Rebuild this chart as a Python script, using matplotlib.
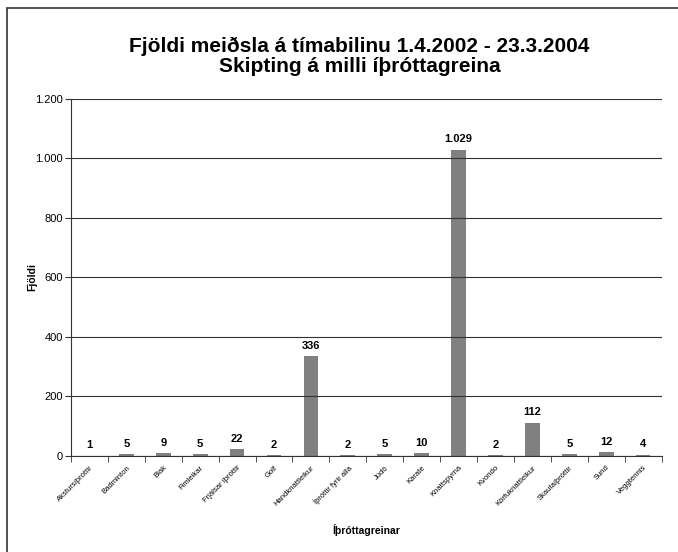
import numpy as np
import matplotlib.pyplot as plt
from matplotlib.patches import Rectangle
from matplotlib.ticker import FuncFormatter

plt.rcParams['font.family'] = ['Liberation Sans', 'DejaVu Sans']

greinar = ['Akstursíþróttir', 'Badminton', 'Blak', 'Fimleikar', 'Frjálsar íþróttir',
           'Golf', 'Handknattleikur', 'Íþróttir fyrir alla', 'Júdó', 'Karate',
           'Knattspyrna', 'Kvondo', 'Körfuknattleikur', 'Skautaíþróttir', 'Sund',
           'Veggtennis']
fjoldi = [1, 5, 9, 5, 22, 2, 336, 2, 5, 10, 1029, 2, 112, 5, 12, 4]


def thus(v):
    return f'{int(v):,}'.replace(',', '.')


fig = plt.figure(figsize=(6.78, 5.52), dpi=100)
ax = fig.add_axes([0.1047, 0.174, 0.871, 0.647])

x = np.arange(len(greinar))
ax.bar(x, fjoldi, width=0.4, color='#808080', zorder=1)
for xi, v in zip(x, fjoldi):
    ax.text(xi, v + 18, thus(v), ha='center', va='bottom', fontsize=8, fontweight='bold')

ax.set_ylim(0, 1200)
ax.set_xlim(-0.5, len(greinar) - 0.5)
ax.set_yticks(np.arange(0, 1201, 200))
ax.yaxis.set_major_formatter(FuncFormatter(lambda v, p: thus(v)))
ax.yaxis.grid(True, color='#333333', linewidth=0.8, zorder=2)
ax.set_axisbelow(False)

ax.set_xticks(x)
ax.set_xticklabels(greinar, rotation=45, ha='right', rotation_mode='anchor', fontsize=5.5)
ax.tick_params(axis='x', length=0, pad=6)
ax.set_xticks(np.arange(-0.5, len(greinar)), minor=True)
ax.tick_params(axis='x', which='minor', length=4, direction='out', color='#333333')
ax.tick_params(axis='y', labelsize=8, length=4, pad=2, color='#333333')

for s in ['top', 'right']:
    ax.spines[s].set_visible(False)
ax.spines['left'].set_color('#333333')
ax.spines['bottom'].set_color('#333333')

ax.set_ylabel('Fjöldi', fontsize=7.5, fontweight='bold')
ax.yaxis.set_label_coords(-0.057, 0.5)
ax.set_xlabel('Íþróttagreinar', fontsize=7.5, fontweight='bold', labelpad=12)

fig.text(0.53, 0.898, 'Fjöldi meiðsla á tímabilinu 1.4.2002 - 23.3.2004\nSkipting á milli íþróttagreina',
         ha='center', va='center', fontsize=15, fontweight='bold', linespacing=1.1)

# outer chart frame, only left and top edges fall inside the picture
fig.patches.append(Rectangle((0.0103, -0.1), 1.2, 1.0855, transform=fig.transFigure,
                             fill=False, edgecolor='#333333', linewidth=1.2))

fig.savefig('out.png', dpi=100)
